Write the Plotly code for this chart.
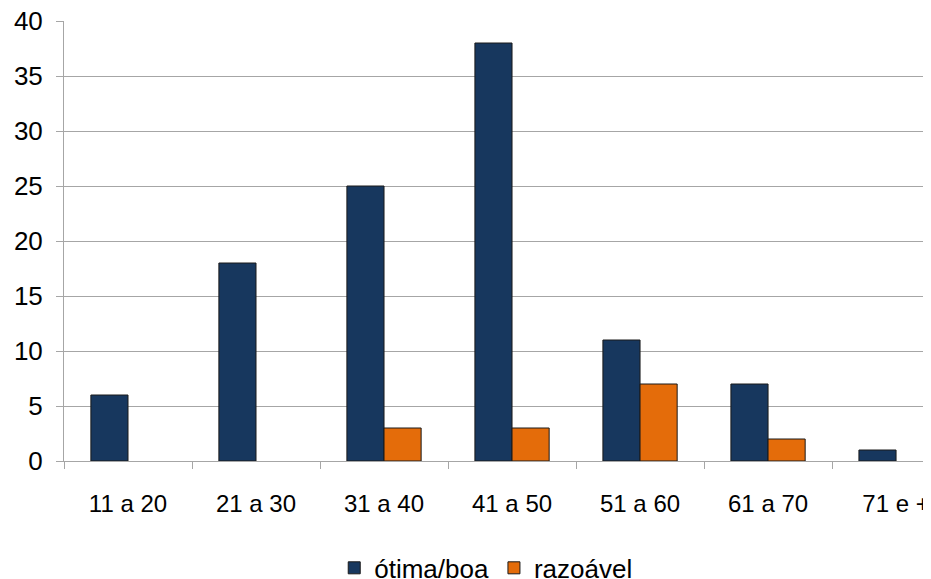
import plotly.graph_objects as go

categories = ["11 a 20", "21 a 30", "31 a 40", "41 a 50", "51 a 60", "61 a 70", "71 e +"]
otima_boa = [6, 18, 25, 38, 11, 7, 1]
razoavel = [0, 0, 3, 3, 7, 2, 0]

blue = "#17375E"
orange = "#E46C0A"
grid = "#A6A6A6"
font_family = "Liberation Sans, Arial, sans-serif"

fig = go.Figure()
fig.add_trace(go.Bar(name="ótima/boa", x=categories, y=otima_boa,
                     marker=dict(color=blue, line=dict(color="#1a1a1a", width=1))))
fig.add_trace(go.Bar(name="razoável", x=categories, y=[v if v else None for v in razoavel],
                     marker=dict(color=orange, line=dict(color="#1a1a1a", width=1))))

fig.update_layout(
    width=923, height=571,
    margin=dict(l=56, r=0, t=13, b=118, autoexpand=False),
    paper_bgcolor="white", plot_bgcolor="white",
    barmode="group", bargap=0.42, bargroupgap=0,
    font=dict(family=font_family, size=25, color="black"),
    showlegend=True,
    legend=dict(orientation="h", x=0.487, xanchor="center", y=-0.243, yanchor="middle",
                font=dict(size=26), traceorder="normal", itemwidth=30),
    xaxis=dict(range=[-0.5, 6.273], showgrid=False, showline=True, linecolor=grid, linewidth=1,
               ticks="outside", tickson="boundaries", ticklen=7, tickcolor=grid,
               tickfont=dict(size=24), ticklabelstandoff=21, ticklabeloverflow="allow",
               automargin=False, fixedrange=True),
    yaxis=dict(range=[0, 40], dtick=5, showgrid=True, gridcolor=grid, gridwidth=1,
               showline=True, linecolor=grid, linewidth=1, zeroline=False,
               ticks="outside", ticklen=7, tickcolor=grid, tickfont=dict(size=26),
               ticklabelstandoff=8, ticklabeloverflow="allow", automargin=False),
)

fig.write_html("out.html")
